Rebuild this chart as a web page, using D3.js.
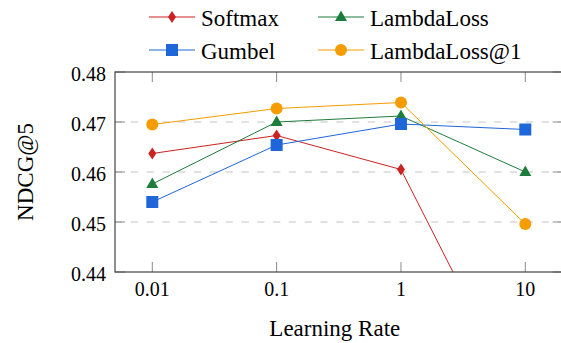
<!DOCTYPE html>
<meta charset="utf-8">
<style>
body { margin: 0; background: #fff; }
svg { display: block; font-family: "Liberation Serif", "Times New Roman", serif; }
.grid line { stroke: #c4c4c4; stroke-dasharray: 7.3,8.5; }
.tick line { stroke: #8a8a8a; }
.frame { fill: none; stroke: #444; stroke-width: 1.2; }
.series { fill: none; stroke-width: 1; }
</style>
<body>
<svg id="chart"></svg>
<script src="https://d3js.org/d3.v7.min.js"></script>
<script>

var rates = [0.01, 0.1, 1, 10];
var xTicks = ["0.01", "0.1", "1", "10"];
var yTicks = [0.44, 0.45, 0.46, 0.47, 0.48];

var softmax     = [0.4637, 0.4673, 0.4605, 0.4115];
var gumbel      = [0.4540, 0.4654, 0.4696, 0.4685];
var lambdaLoss  = [0.4576, 0.4700, 0.4712, 0.4600];
var lambdaLoss1 = [0.4695, 0.4727, 0.4739, 0.4496];

var names  = ["Softmax", "LambdaLoss", "Gumbel", "LambdaLoss@1"];
var colors = ["#cc2222", "#1e7d3c", "#1f66d9", "#f59c00"];
var shapes = ["diamond", "triangle", "square", "circle"];
var values = [softmax, lambdaLoss, gumbel, lambdaLoss1];

var width = 561, height = 343;
var plotL = 115, plotR = 562.6, plotT = 72, plotB = 272;

var svg = d3.select("#chart").attr("width", width).attr("height", height);

var x = d3.scaleLog().domain([Math.pow(10, -2.3), Math.pow(10, 1.3)]).range([plotL, plotR]);
var y = d3.scaleLinear().domain([0.44, 0.48]).range([plotB, plotT]);

svg.append("defs").append("clipPath").attr("id", "clip")
  .append("rect").attr("x", plotL).attr("y", plotT)
  .attr("width", plotR - plotL).attr("height", plotB - plotT);

// dashed grid
svg.append("g").attr("class", "grid")
  .selectAll("line").data(yTicks.slice(1, -1)).enter().append("line")
  .attr("x1", plotL).attr("x2", plotR)
  .attr("y1", function(d) { return y(d); })
  .attr("y2", function(d) { return y(d); });

// ticks on all four sides, pointing inward
var tl = 10;
var t = svg.append("g").attr("class", "tick");
rates.forEach(function(r) {
  t.append("line").attr("x1", x(r)).attr("x2", x(r)).attr("y1", plotB).attr("y2", plotB - tl);
  t.append("line").attr("x1", x(r)).attr("x2", x(r)).attr("y1", plotT).attr("y2", plotT + tl);
});
yTicks.forEach(function(v) {
  t.append("line").attr("x1", plotL).attr("x2", plotL + tl).attr("y1", y(v)).attr("y2", y(v));
  t.append("line").attr("x1", plotR).attr("x2", plotR - tl).attr("y1", y(v)).attr("y2", y(v));
});

// tick labels
svg.append("g").selectAll("text").data(rates).enter().append("text")
  .attr("x", function(d) { return x(d); })
  .attr("y", 296)
  .attr("text-anchor", "middle")
  .style("font-size", "20px")
  .text(function(d, i) { return xTicks[i]; });

svg.append("g").selectAll("text").data(yTicks).enter().append("text")
  .attr("x", 106)
  .attr("y", function(d) { return y(d) + 8.5; })
  .attr("text-anchor", "end")
  .style("font-size", "20px")
  .text(function(d) { return d3.format(".2f")(d); });

function marker(g, shape, color, cx, cy) {
  if (shape === "circle") {
    g.append("circle").attr("cx", cx).attr("cy", cy).attr("r", 6).attr("fill", color);
  } else if (shape === "square") {
    g.append("rect").attr("x", cx - 6).attr("y", cy - 6).attr("width", 12).attr("height", 12)
      .attr("fill", color);
  } else if (shape === "triangle") {
    g.append("path").attr("d", "M" + cx + "," + (cy - 6.5) + "L" + (cx + 6) + "," + (cy + 4) + "L" + (cx - 6) + "," + (cy + 4) + "Z")
      .attr("fill", color);
  } else {
    g.append("path").attr("d", "M" + cx + "," + (cy - 6) + "L" + (cx + 4) + "," + cy + "L" + cx + "," + (cy + 6) + "L" + (cx - 4) + "," + cy + "Z")
      .attr("fill", color);
  }
}

var line = d3.line()
  .x(function(d, i) { return x(rates[i]); })
  .y(function(d) { return y(d); });

var plot = svg.append("g").attr("clip-path", "url(#clip)");
values.forEach(function(vals, k) {
  var g = plot.append("g");
  g.append("path").datum(vals).attr("class", "series").attr("d", line).attr("stroke", colors[k]);
  vals.forEach(function(v, i) {
    marker(g, shapes[k], colors[k], x(rates[i]), y(v));
  });
});

svg.append("rect").attr("class", "frame")
  .attr("x", plotL).attr("y", plotT).attr("width", plotR - plotL).attr("height", plotB - plotT);

// legend, two columns
var legX = [149, 318], legY = [17, 50];
names.forEach(function(n, k) {
  var lx = legX[k % 2], ly = legY[Math.floor(k / 2)];
  var g = svg.append("g");
  g.append("line").attr("x1", lx).attr("x2", lx + 46).attr("y1", ly).attr("y2", ly)
    .attr("stroke", colors[k]).attr("stroke-width", 1.2);
  marker(g, shapes[k], colors[k], lx + 23, ly);
  g.append("text").attr("x", lx + 52).attr("y", ly + 8.5)
    .style("font-size", "23px").text(n);
});

// axis titles
svg.append("text").attr("x", (plotL + plotR) / 2 - 4).attr("y", 336)
  .attr("text-anchor", "middle").style("font-size", "23px").text("Learning Rate");

svg.append("text")
  .attr("transform", "translate(33," + ((plotT + plotB) / 2) + ") rotate(-90)")
  .attr("text-anchor", "middle").style("font-size", "23px").text("NDCG@5");

</script>
</body>
